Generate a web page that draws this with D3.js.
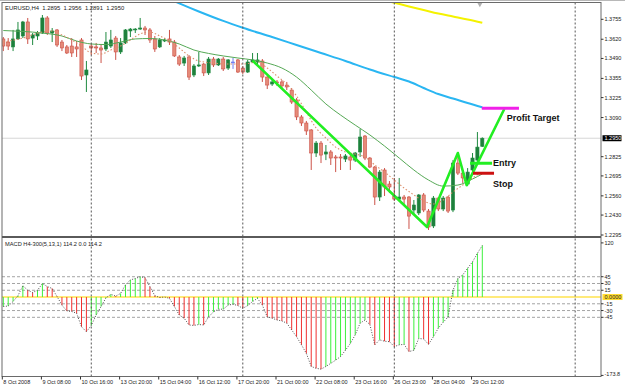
<!DOCTYPE html>
<html>
<head>
<meta charset="utf-8">
<script src="https://cdn.jsdelivr.net/npm/d3@7"></script>
<style>
    body { margin: 0; background: #fff; }
    svg { display: block; font-family: "Liberation Sans", Arial, sans-serif; }
</style>
</head>
<body>
<div id="chart"></div>
<script>
// EURUSD H4 candles (8 Oct - 29 Oct 2008), one value per bar
var openP = [1.3622,1.3601,1.3568,1.3622,1.3642,1.3737,1.3628,1.3642,1.3662,1.3764,
    1.3662,1.3683,1.3601,1.3568,1.3574,1.3568,1.3615,1.3378,1.3574,1.3568,
    1.3561,1.3554,1.3574,1.3628,1.3534,1.3595,1.3676,1.3683,1.3689,1.3696,
    1.3683,1.3622,1.3568,1.3608,1.3622,1.3601,1.3500,1.3459,1.3500,1.3378,
    1.3439,1.3452,1.3392,1.3486,1.3446,1.3486,1.3425,1.3466,1.3480,1.3425,
    1.3398,1.3466,1.3466,1.3473,1.3364,1.3317,1.3331,1.3331,1.3310,1.3276,
    1.3209,1.3094,1.3053,1.3006,1.2850,1.2917,1.2843,1.2857,1.2823,1.2823,
    1.2809,1.2823,1.2802,1.2857,1.2965,1.2816,1.2755,1.2552,1.2735,1.2640,
    1.2559,1.2538,1.2552,1.2552,1.2464,1.2444,1.2566,1.2457,1.2356,1.2545,
    1.2471,1.2552,1.2464,1.2782,1.2714,1.2640,1.2735,1.2802,1.2895];
var highP = [1.3635,1.3628,1.3683,1.3737,1.3744,1.3764,1.3662,1.3676,1.3784,1.3777,
    1.3696,1.3689,1.3615,1.3581,1.3628,1.3608,1.3628,1.3473,1.3588,1.3595,
    1.3581,1.3669,1.3683,1.3642,1.3628,1.3689,1.3696,1.3696,1.3764,1.3710,
    1.3696,1.3642,1.3628,1.3628,1.3683,1.3615,1.3513,1.3507,1.3513,1.3452,
    1.3534,1.3459,1.3500,1.3500,1.3493,1.3500,1.3486,1.3493,1.3486,1.3439,
    1.3480,1.3527,1.3527,1.3486,1.3371,1.3344,1.3344,1.3344,1.3331,1.3290,
    1.3222,1.3107,1.3067,1.3012,1.2931,1.2931,1.2904,1.2870,1.2836,1.2843,
    1.2843,1.2836,1.2857,1.3012,1.2972,1.2823,1.2762,1.2735,1.2748,1.2660,
    1.2681,1.2681,1.2566,1.2559,1.2532,1.2572,1.2579,1.2471,1.2559,1.2552,
    1.2559,1.2559,1.2802,1.2850,1.2735,1.2748,1.2850,1.2992,1.2956];
var lowP = [1.3540,1.3547,1.3540,1.3615,1.3628,1.3588,1.3581,1.3615,1.3656,1.3649,
    1.3601,1.3568,1.3540,1.3520,1.3500,1.3500,1.3344,1.3263,1.3513,1.3527,
    1.3459,1.3540,1.3561,1.3480,1.3520,1.3588,1.3635,1.3662,1.3683,1.3649,
    1.3595,1.3534,1.3561,1.3601,1.3581,1.3500,1.3439,1.3439,1.3344,1.3364,
    1.3432,1.3371,1.3378,1.3432,1.3439,1.3405,1.3412,1.3419,1.3392,1.3385,
    1.3392,1.3459,1.3452,1.3331,1.3283,1.3304,1.3304,1.3290,1.3276,1.3182,
    1.3073,1.3033,1.2972,1.2735,1.2823,1.2782,1.2802,1.2769,1.2721,1.2735,
    1.2789,1.2735,1.2789,1.2823,1.2802,1.2748,1.2498,1.2525,1.2559,1.2579,
    1.2525,1.2525,1.2498,1.2336,1.2430,1.2430,1.2450,1.2329,1.2342,1.2457,
    1.2457,1.2444,1.2450,1.2701,1.2647,1.2626,1.2721,1.2789,1.2891];
var closeP = [1.3574,1.3574,1.3622,1.3683,1.3737,1.3622,1.3649,1.3662,1.3764,1.3662,
    1.3676,1.3581,1.3561,1.3527,1.3527,1.3554,1.3371,1.3412,1.3561,1.3561,
    1.3547,1.3601,1.3615,1.3534,1.3595,1.3683,1.3689,1.3689,1.3696,1.3683,
    1.3615,1.3554,1.3615,1.3615,1.3601,1.3507,1.3452,1.3493,1.3364,1.3439,
    1.3446,1.3392,1.3486,1.3446,1.3486,1.3419,1.3480,1.3466,1.3398,1.3398,
    1.3466,1.3480,1.3480,1.3364,1.3310,1.3331,1.3324,1.3304,1.3297,1.3195,
    1.3094,1.3053,1.2999,1.2850,1.2917,1.2836,1.2857,1.2816,1.2816,1.2816,
    1.2830,1.2802,1.2850,1.2958,1.2816,1.2755,1.2552,1.2721,1.2620,1.2620,
    1.2538,1.2552,1.2538,1.2423,1.2498,1.2566,1.2464,1.2349,1.2545,1.2471,
    1.2545,1.2457,1.2782,1.2714,1.2681,1.2721,1.2816,1.2890,1.2950];

// MACD H4-300(5,13,1) histogram, one value per bar
var macdVals = [-21,-20,-10,3,25,15,10,15,30,23,
    19,1,-18,-31,-32,-36,-66,-77,-63,-40,
    -21,-2,6,2,8,27,38,41,45,43,
    23,3,-1,0,-3,-21,-40,-47,-62,-63,
    -61,-62,-44,-33,-27,-27,-18,-16,-19,-25,
    -19,-10,-3,-18,-44,-47,-51,-53,-58,-73,
    -88,-106,-125,-154,-158,-160,-154,-147,-140,-132,
    -118,-103,-84,-58,-51,-61,-106,-95,-98,-99,
    -110,-106,-105,-121,-118,-92,-93,-105,-88,-69,
    -56,-44,15,41,49,64,78,97,114.2];

// moving averages: [bar, price]
var maCyan = [[33,1.3906],[36,1.3863],[40,1.3808],[45,1.3744],[49,1.3698],[55,1.3635],
    [60,1.3581],[65,1.3527],[70,1.3473],[75,1.3415],[80,1.3364],[83,1.3334],
    [86,1.3290],[89,1.3249],[92,1.3219],[95,1.3188],[98,1.3159]];
var maYellow = [[76,1.3899],[80,1.3867],[83,1.3842],[86,1.3818],[89,1.3794],
    [92,1.3774],[95,1.3754],[98,1.3732]];
var maGreen = [[0,1.3679],[4,1.3673],[8,1.3662],[12,1.3642],[15,1.3608],[18,1.3588],
    [21,1.3584],[24,1.3601],[27,1.3622],[30,1.3625],[33,1.3615],[36,1.3588],
    [39,1.3547],[42,1.3524],[45,1.3507],[48,1.3493],[51,1.3480],[54,1.3459],
    [57,1.3425],[60,1.3364],[63,1.3276],[66,1.3182],[69,1.3107],[72,1.3039],
    [75,1.2972],[78,1.2897],[81,1.2816],[84,1.2735],[87,1.2667],[90,1.2626],
    [93,1.2633],[96,1.2674],[98,1.2708]];
var maDotted = [[0,1.3601],[4,1.3628],[8,1.3669],[10,1.3676],[12,1.3649],[14,1.3615],
    [16,1.3574],[18,1.3527],[20,1.3520],[22,1.3547],[24,1.3574],[26,1.3615],
    [28,1.3656],[30,1.3669],[32,1.3642],[34,1.3608],[36,1.3561],[38,1.3507],
    [40,1.3473],[43,1.3459],[46,1.3452],[49,1.3452],[52,1.3466],[54,1.3425],
    [56,1.3371],[58,1.3317],[60,1.3236],[62,1.3127],[64,1.3019],[66,1.2951],
    [68,1.2890],[70,1.2857],[72,1.2843],[74,1.2823],[76,1.2769],[78,1.2721],
    [80,1.2667],[82,1.2613],[84,1.2566],[86,1.2525],[88,1.2505],[90,1.2532],
    [92,1.2586],[94,1.2633],[96,1.2681],[98,1.2721]];

// drawn objects: zigzag and trade levels [bar, price]
var zigzag = [[51,1.3475],[86.7,1.2349],[93,1.2850],[94.8,1.2633],[102.5,1.3148]];
var entryLine = [[95.5,1.2780],[100,1.2780]];
var stopLine = [[96.1,1.2713],[100.4,1.2713]];
var targetLine = [[97.9,1.3153],[105.5,1.3153]];
var noteTexts = ["Profit Target", "Entry", "Stop"];
var notePos = [[103,1.3065],[100.2,1.2762],[100.2,1.2620]];

// axes
var priceTicks = [1.3755,1.3620,1.3490,1.3355,1.3225,1.3090,1.2825,1.2695,1.2560,1.2430,1.2295];
var bidPrice = 1.2950;
var macdTicks = [120,45,30,15,-15,-30,-45,-173.8];
var macdLevels = [45,30,15,-15,-30,-45];
var timeBars = [0,8,16,24,32,40,48,56,64,72,80,88,96];
var timeTexts = ["8 Oct 2008","9 Oct 08:00","10 Oct 16:00","13 Oct 20:00","15 Oct 04:00",
    "16 Oct 12:00","17 Oct 20:00","21 Oct 00:00","22 Oct 08:00","23 Oct 16:00",
    "26 Oct 23:00","28 Oct 04:00","29 Oct 12:00"];
var separatorBars = [18,49,80,117];

function mt4_chart(_containerId) {
    var WIDTH = 625, HEIGHT = 388;
    var LEFT = 2, RIGHT = 601,
        TOP = 2.5, MID = 237, BOTTOM = 376.5;

    var svg = d3.select(_containerId).append("svg")
        .attr("width", WIDTH)
        .attr("height", HEIGHT);

    var x = d3.scaleLinear().domain([0, 98]).range([3.3, 482.3]);
    var yP = d3.scaleLinear().domain([1.2295, 1.3755]).range([235, 19.3]);
    var yM = d3.scaleLinear().domain([-173.8, 120]).range([375.4, 242.9]);

    // clip areas for the two windows
    var defs = svg.append("defs");
    defs.append("clipPath").attr("id", "clipTop").append("rect")
        .attr("x", LEFT).attr("y", TOP).attr("width", RIGHT - LEFT).attr("height", MID - 1 - TOP);
    defs.append("clipPath").attr("id", "clipBot").append("rect")
        .attr("x", LEFT).attr("y", MID + 1.5).attr("width", RIGHT - LEFT).attr("height", BOTTOM - MID - 1.5);

    var top = svg.append("g").attr("clip-path", "url(#clipTop)");
    var bot = svg.append("g").attr("clip-path", "url(#clipBot)");

    // bid line
    top.append("line")
        .attr("x1", LEFT).attr("x2", RIGHT)
        .attr("y1", yP(bidPrice)).attr("y2", yP(bidPrice))
        .attr("stroke", "#d6d6d6").attr("stroke-width", 1);

    // macd levels + zero line
    bot.selectAll("line.level")
        .data(macdLevels).enter()
        .append("line")
        .attr("class", "level")
        .attr("x1", LEFT).attr("x2", RIGHT)
        .attr("y1", function (d) { return yM(d); })
        .attr("y2", function (d) { return yM(d); })
        .attr("stroke", "#a4a4a4")
        .attr("stroke-dasharray", "3,2");
    bot.append("line")
        .attr("x1", LEFT).attr("x2", RIGHT)
        .attr("y1", yM(0)).attr("y2", yM(0))
        .attr("stroke", "#ffea7a").attr("stroke-width", 2);

    // weekly separators through both windows
    svg.selectAll("line.sep")
        .data(separatorBars).enter()
        .append("line")
        .attr("class", "sep")
        .attr("x1", function (d) { return x(d); })
        .attr("x2", function (d) { return x(d); })
        .attr("y1", TOP).attr("y2", BOTTOM)
        .attr("stroke", "#555")
        .attr("stroke-dasharray", "2,2");

    // candles
    var bars = d3.range(openP.length);
    var candle = top.selectAll("g.candle")
        .data(bars).enter()
        .append("g")
        .attr("class", "candle");

    function candleColor(i) {
        if (closeP[i] > openP[i]) return "#1f8a40";
        if (closeP[i] < openP[i]) return "#cc5248";
        return "#6f7cf0";
    }

    candle.append("line")
        .attr("x1", function (i) { return x(i); })
        .attr("x2", function (i) { return x(i); })
        .attr("y1", function (i) { return yP(highP[i]); })
        .attr("y2", function (i) { return yP(lowP[i]); })
        .attr("stroke", candleColor)
        .attr("stroke-width", 1);

    candle.append("rect")
        .attr("x", function (i) { return x(i) - 1.6; })
        .attr("width", 3.2)
        .attr("y", function (i) { return yP(Math.max(openP[i], closeP[i])); })
        .attr("height", function (i) {
            return Math.max(0.8, yP(Math.min(openP[i], closeP[i])) - yP(Math.max(openP[i], closeP[i])));
        })
        .attr("fill", function (i) {
            if (closeP[i] > openP[i]) return "#1e7f3c";
            if (closeP[i] < openP[i]) return "#e58a78";
            return "#6f7cf0";
        })
        .attr("stroke", candleColor)
        .attr("stroke-width", 0.6);

    // moving averages
    var maLine = d3.line()
        .x(function (d) { return x(d[0]); })
        .y(function (d) { return yP(d[1]); })
        .curve(d3.curveMonotoneX);

    top.append("path").datum(maCyan)
        .attr("d", maLine).attr("fill", "none")
        .attr("stroke", "#2ab6f2").attr("stroke-width", 2);
    top.append("path").datum(maYellow)
        .attr("d", maLine).attr("fill", "none")
        .attr("stroke", "#f4f200").attr("stroke-width", 2);
    top.append("path").datum(maGreen)
        .attr("d", maLine).attr("fill", "none")
        .attr("stroke", "#55a855").attr("stroke-width", 1);
    top.append("path").datum(maDotted)
        .attr("d", maLine).attr("fill", "none")
        .attr("stroke", "#dc8f6c").attr("stroke-width", 1.1)
        .attr("stroke-dasharray", "1.5,2");

    // drawn objects
    var objLine = d3.line()
        .x(function (d) { return x(d[0]); })
        .y(function (d) { return yP(d[1]); });

    top.append("path").datum(zigzag)
        .attr("d", objLine).attr("fill", "none")
        .attr("stroke", "#22ee22").attr("stroke-width", 2.6)
        .attr("stroke-linejoin", "round");
    top.append("path").datum(targetLine)
        .attr("d", objLine).attr("stroke", "#f020e8").attr("stroke-width", 3);
    top.append("path").datum(entryLine)
        .attr("d", objLine).attr("stroke", "#22ee22").attr("stroke-width", 3);
    top.append("path").datum(stopLine)
        .attr("d", objLine).attr("stroke", "#cc1111").attr("stroke-width", 3);

    top.selectAll("text.note")
        .data(noteTexts).enter()
        .append("text")
        .attr("class", "note")
        .attr("x", function (d, i) { return x(notePos[i][0]); })
        .attr("y", function (d, i) { return yP(notePos[i][1]); })
        .style("font-size", "9px")
        .style("font-weight", "bold")
        .attr("fill", "#111")
        .text(function (d) { return d; });

    // chart shift marker
    svg.append("path")
        .attr("d", d3.symbol().type(d3.symbolTriangle).size(10))
        .attr("transform", "translate(" + x(97.5) + "," + (TOP + 2) + ") rotate(180)")
        .attr("fill", "#b0b0b0");

    // macd histogram
    bot.selectAll("line.hist")
        .data(bars).enter()
        .append("line")
        .attr("class", "hist")
        .attr("x1", function (i) { return x(i); })
        .attr("x2", function (i) { return x(i); })
        .attr("y1", yM(0))
        .attr("y2", function (i) { return yM(macdVals[i]); })
        .attr("stroke", function (i) {
            return (i > 0 && macdVals[i] < macdVals[i - 1]) ? "#f03030" : "#3cf03c";
        })
        .attr("stroke-width", 1);

    bot.append("path").datum(bars)
        .attr("d", d3.line()
            .x(function (i) { return x(i); })
            .y(function (i) { return yM(macdVals[i]); }))
        .attr("fill", "none")
        .attr("stroke", "#505050")
        .attr("stroke-width", 1)
        .attr("stroke-dasharray", "1,1.6");

    // frame
    svg.append("line").attr("x1", 0).attr("x2", WIDTH).attr("y1", 0.5).attr("y2", 0.5)
        .attr("stroke", "#b8b8b8");
    svg.append("rect")
        .attr("x", LEFT).attr("y", TOP)
        .attr("width", RIGHT - LEFT).attr("height", BOTTOM - TOP)
        .attr("fill", "none").attr("stroke", "#6a6a6a").attr("stroke-width", 1);
    svg.append("line")
        .attr("x1", LEFT).attr("x2", RIGHT)
        .attr("y1", MID).attr("y2", MID)
        .attr("stroke", "#5a5a5a").attr("stroke-width", 2.2);

    // price axis
    var axisFont = "5.5px";
    svg.selectAll("line.ptick")
        .data(priceTicks).enter()
        .append("line")
        .attr("class", "ptick")
        .attr("x1", RIGHT).attr("x2", RIGHT + 2.5)
        .attr("y1", function (d) { return yP(d); })
        .attr("y2", function (d) { return yP(d); })
        .attr("stroke", "#333");
    svg.selectAll("text.ptick")
        .data(priceTicks).enter()
        .append("text")
        .attr("class", "ptick")
        .attr("x", RIGHT + 3.5)
        .attr("y", function (d) { return yP(d) + 2; })
        .style("font-size", axisFont)
        .attr("fill", "#222")
        .text(function (d) { return d.toFixed(4); });

    svg.append("rect")
        .attr("x", RIGHT + 1.5).attr("y", yP(bidPrice) - 3)
        .attr("width", 19).attr("height", 6)
        .attr("fill", "#000");
    svg.append("text")
        .attr("x", RIGHT + 3.5).attr("y", yP(bidPrice) + 2)
        .style("font-size", axisFont)
        .attr("fill", "#fff")
        .text(bidPrice.toFixed(4));

    // macd axis
    svg.selectAll("line.mtick")
        .data(macdTicks).enter()
        .append("line")
        .attr("class", "mtick")
        .attr("x1", RIGHT).attr("x2", RIGHT + 2.5)
        .attr("y1", function (d) { return yM(d); })
        .attr("y2", function (d) { return yM(d); })
        .attr("stroke", "#333");
    svg.selectAll("text.mtick")
        .data(macdTicks).enter()
        .append("text")
        .attr("class", "mtick")
        .attr("x", RIGHT + 3.5)
        .attr("y", function (d) { return Math.min(yM(d) + 2, BOTTOM - 1); })
        .style("font-size", axisFont)
        .attr("fill", "#222")
        .text(function (d) { return d; });

    svg.append("rect")
        .attr("x", RIGHT + 1.5).attr("y", yM(0) - 3)
        .attr("width", 20).attr("height", 6)
        .attr("fill", "#ffdc2e");
    svg.append("text")
        .attr("x", RIGHT + 3.5).attr("y", yM(0) + 2)
        .style("font-size", axisFont)
        .attr("fill", "#222")
        .text("0.0000");

    // time axis
    svg.selectAll("line.ttick")
        .data(timeBars).enter()
        .append("line")
        .attr("class", "ttick")
        .attr("x1", function (d) { return x(d) - 1; })
        .attr("x2", function (d) { return x(d) - 1; })
        .attr("y1", BOTTOM).attr("y2", BOTTOM + 3)
        .attr("stroke", "#333");
    svg.selectAll("text.ttick")
        .data(timeTexts).enter()
        .append("text")
        .attr("class", "ttick")
        .attr("x", function (d, i) { return x(timeBars[i]); })
        .attr("y", BOTTOM + 7.5)
        .style("font-size", axisFont)
        .attr("fill", "#222")
        .text(function (d) { return d; });

    // window titles
    svg.append("text")
        .attr("x", 5).attr("y", 10)
        .style("font-size", "5.9px").style("white-space", "pre").attr("fill", "#222")
        .text("EURUSD,H4  " + [openP[98], highP[98], lowP[98], closeP[98]].map(function (v) {
            return v.toFixed(4);
        }).join("  "));
    svg.append("text")
        .attr("x", 5).attr("y", 245.5)
        .style("font-size", "5.7px").attr("fill", "#222")
        .text("MACD H4-300(5,13,1) 114.2 0.0 114.2");
}

mt4_chart("#chart");
</script>
</body>
</html>
